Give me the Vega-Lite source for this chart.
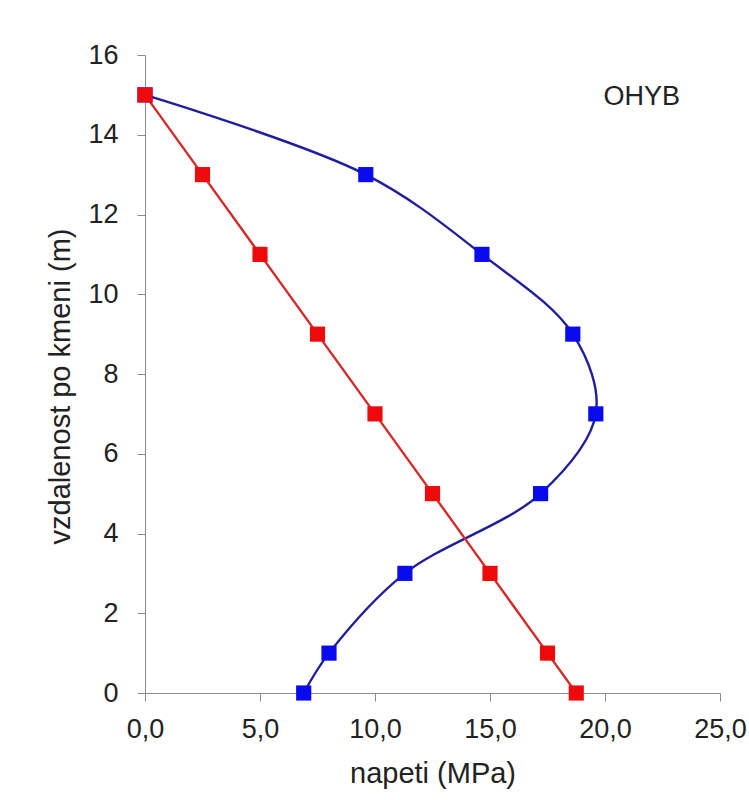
{
  "$schema": "https://vega.github.io/schema/vega-lite/v6.json",
  "autosize": "none",
  "width": 575,
  "height": 638,
  "padding": {"left": 145, "top": 55, "right": 29, "bottom": 107},
  "background": "white",
  "config": {
    "view": {"stroke": null},
    "font": "Liberation Sans",
    "axis": {
      "grid": false,
      "domainColor": "#8a8a8a",
      "tickColor": "#8a8a8a",
      "tickSize": 8,
      "labelFont": "Liberation Sans",
      "labelFontSize": 27,
      "labelColor": "#222222",
      "labelFlush": false,
      "labelOverlap": false,
      "titleFont": "Liberation Sans",
      "titleFontSize": 29,
      "titleFontWeight": "normal",
      "titleColor": "#222222"
    }
  },
  "datasets": {
    "series": [
      {"serie": "ohyb", "i": 0, "napeti": 6.9, "vzd": 0},
      {"serie": "ohyb", "i": 1, "napeti": 8.0, "vzd": 1},
      {"serie": "ohyb", "i": 2, "napeti": 11.3, "vzd": 3},
      {"serie": "ohyb", "i": 3, "napeti": 17.2, "vzd": 5},
      {"serie": "ohyb", "i": 4, "napeti": 19.6, "vzd": 7},
      {"serie": "ohyb", "i": 5, "napeti": 18.6, "vzd": 9},
      {"serie": "ohyb", "i": 6, "napeti": 14.65, "vzd": 11},
      {"serie": "ohyb", "i": 7, "napeti": 9.6, "vzd": 13},
      {"serie": "ohyb", "i": 8, "napeti": 0, "vzd": 15},
      {"serie": "lin", "i": 0, "napeti": 18.75, "vzd": 0},
      {"serie": "lin", "i": 1, "napeti": 17.5, "vzd": 1},
      {"serie": "lin", "i": 2, "napeti": 15.0, "vzd": 3},
      {"serie": "lin", "i": 3, "napeti": 12.5, "vzd": 5},
      {"serie": "lin", "i": 4, "napeti": 10.0, "vzd": 7},
      {"serie": "lin", "i": 5, "napeti": 7.5, "vzd": 9},
      {"serie": "lin", "i": 6, "napeti": 5.0, "vzd": 11},
      {"serie": "lin", "i": 7, "napeti": 2.5, "vzd": 13},
      {"serie": "lin", "i": 8, "napeti": 0, "vzd": 15}
    ],
    "label": [{"text": "OHYB", "napeti": 21.6, "vzd": 14.95}]
  },
  "layer": [
    {
      "data": {"name": "series"},
      "transform": [{"filter": "datum.serie === 'ohyb'"}],
      "mark": {"type": "line", "interpolate": "catmull-rom", "color": "#1f1f9c", "strokeWidth": 2.4},
      "encoding": {
        "x": {"field": "napeti", "type": "quantitative", "scale": {"domain": [0, 25], "nice": false},
          "axis": {"title": "napeti (MPa)", "values": [0, 5, 10, 15, 20, 25], "labelExpr": "replace(format(datum.value, '.1f'), '.', ',')", "labelPadding": 15, "titlePadding": 17}},
        "y": {"field": "vzd", "type": "quantitative", "scale": {"domain": [0, 16], "nice": false},
          "axis": {"title": "vzdalenost po kmeni (m)", "values": [0, 2, 4, 6, 8, 10, 12, 14, 16], "labelPadding": 19, "titlePadding": 12, "titleY": 331}},
        "order": {"field": "i", "type": "quantitative"}
      }
    },
    {
      "data": {"name": "series"},
      "transform": [{"filter": "datum.serie === 'lin'"}],
      "mark": {"type": "line", "color": "#d42a2a", "strokeWidth": 2.4},
      "encoding": {
        "x": {"field": "napeti", "type": "quantitative"},
        "y": {"field": "vzd", "type": "quantitative"},
        "order": {"field": "i", "type": "quantitative"}
      }
    },
    {
      "data": {"name": "series"},
      "transform": [{"filter": "datum.serie === 'ohyb'"}],
      "mark": {"type": "point", "shape": "square", "filled": true, "size": 230, "color": "#0a0aee", "opacity": 1},
      "encoding": {
        "x": {"field": "napeti", "type": "quantitative"},
        "y": {"field": "vzd", "type": "quantitative"}
      }
    },
    {
      "data": {"name": "series"},
      "transform": [{"filter": "datum.serie === 'lin'"}],
      "mark": {"type": "point", "shape": "square", "filled": true, "size": 230, "color": "#ee0a0a", "opacity": 1},
      "encoding": {
        "x": {"field": "napeti", "type": "quantitative"},
        "y": {"field": "vzd", "type": "quantitative"}
      }
    },
    {
      "data": {"name": "label"},
      "mark": {"type": "text", "fontSize": 27, "font": "Liberation Sans", "color": "#222222", "align": "center", "baseline": "middle"},
      "encoding": {
        "x": {"field": "napeti", "type": "quantitative"},
        "y": {"field": "vzd", "type": "quantitative"},
        "text": {"field": "text"}
      }
    }
  ]
}
